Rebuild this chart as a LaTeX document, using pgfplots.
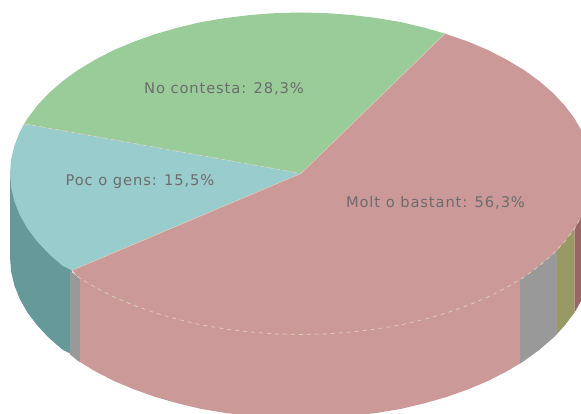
\documentclass[border=0pt]{standalone}
\usepackage{pgfplots}
\usepackage{fontspec}
\setmainfont[LetterSpace=6]{DejaVu Sans}
\pgfplotsset{compat=1.18}
\definecolor{pink}{HTML}{CC9999}
\definecolor{bluetop}{HTML}{99CCCC}
\definecolor{greentop}{HTML}{99CC99}
\definecolor{tealside}{HTML}{669999}
\definecolor{grayside}{HTML}{999999}
\definecolor{oliveside}{HTML}{999966}
\definecolor{redside}{HTML}{996666}
\definecolor{rim}{HTML}{DDD0BC}
\definecolor{labelc}{HTML}{6C6C6C}
\begin{document}
\begin{tikzpicture}
\useasboundingbox (0,0) rectangle (581bp,414bp);
\begin{axis}[
  scale only axis,
  width=581bp,
  height=414bp,
  xmin=0, xmax=581,
  ymin=0, ymax=414,
  y dir=reverse,
  hide axis,
  every axis plot/.append style={line join=round},
]
%% sides first, the top covers their upper edges
\addplot[fill=tealside, draw=none] coordinates {
  (72,271) (10,173.5) (10,257.5) (11.1,271.5) (14.4,285.5) (19.9,299.2) (27.5,312.6)
  (37.3,325.5) (49,338) (62.6,349.8) (72,354.4)
} --cycle;
\addplot[fill=grayside, draw=none] coordinates {
  (70,271) (80,278) (80,362) (78,361) (70,354.4)
} --cycle;
\addplot[fill=pink, draw=none] coordinates {
  (80,278) (520,279.5) (520,363.5) (506.8,371.3) (488,381) (467.9,389.4) (446.5,397)
  (424,403.4) (400.5,409) (376.3,413) (351.5,416) (326.4,417.9) (301,418.5) (275.6,417.9)
  (250.5,416) (225.7,413) (201.5,409) (178,403.4) (155.5,397) (134.1,389.4) (114,381)
  (95.2,371.3) (80,362)
} --cycle;
\addplot[fill=grayside, draw=none] coordinates {
  (520,279.5) (557,250) (557,334) (553,338) (539.4,349.8) (524,361) (520,363.5)
} --cycle;
\addplot[fill=oliveside, draw=none] coordinates {
  (557,250) (574.5,228.6) (574.5,312.6) (564.7,325.5) (557,334)
} --cycle;
\addplot[fill=redside, draw=none] coordinates {
  (574.5,228.6) (592,173.5) (592,257.5) (590.9,271.5) (587.6,285.5) (582.1,299.2) (574.5,312.6)
} --cycle;
%% top: green sector
\addplot[fill=greentop, draw=none] coordinates {
  (301,173.5) (24.2,123.7) (27.5,118.4) (37.3,105.5) (49,93) (62.6,81.2) (78,70) (95.2,59.7)
  (114,50) (134.1,41.6) (155.5,34) (178,27.6) (201.5,22) (225.7,18) (250.5,15) (275.6,13.1)
  (301,12.5) (326.4,13.1) (351.5,15) (376.3,18) (400.5,22) (424,27.6) (445,33.6)
} --cycle;
%% top: blue sector
\addplot[fill=bluetop, draw=none] coordinates {
  (301,173.5) (72,270.4) (62.6,265.8) (49,254) (37.3,241.5) (27.5,228.6) (19.9,215.2)
  (14.4,201.5) (11.1,187.5) (10,173.5) (11.1,159.5) (14.4,145.5) (19.9,131.8) (24.2,123.7)
} --cycle;
%% top: red sector
\addplot[fill=pink, draw=none] coordinates {
  (301,173.5) (445,33.6) (467.9,41.6) (488,50) (506.8,59.7) (524,70) (539.4,81.2) (553,93)
  (564.7,105.5) (574.5,118.4) (582.1,131.8) (587.6,145.5) (590.9,159.5) (592,173.5)
  (590.9,187.5) (587.6,201.5) (582.1,215.2) (574.5,228.6) (564.7,241.5) (553,254)
  (539.4,265.8) (524,277) (506.8,287.3) (488,297) (467.9,305.4) (446.5,313) (424,319.4)
  (400.5,325) (376.3,329) (351.5,332) (326.4,333.9) (301,334.5) (275.6,333.9) (250.5,332)
  (225.7,329) (201.5,325) (178,319.4) (155.5,313) (134.1,305.4) (114,297) (95.2,287.3)
  (78,277) (72,270.4)
} --cycle;
%% pale edges
\addplot[rim, line width=0.7bp, dash pattern=on 4bp off 4bp] coordinates {
  (72,270.4) (78,277) (95.2,287.3) (114,297) (134.1,305.4) (155.5,313) (178,319.4) (201.5,325)
  (225.7,329) (250.5,332) (275.6,333.9) (301,334.5) (326.4,333.9) (351.5,332) (376.3,329)
  (400.5,325) (424,319.4) (446.5,313) (467.9,305.4) (488,297) (506.8,287.3) (524,277)
  (539.4,265.8) (553,254) (564.7,241.5) (574.5,228.6) (582.1,215.2)
};
\addplot[rim, line width=0.7bp, dash pattern=on 4bp off 4bp] coordinates {(24.2,123.7) (301,173.5)};
\addplot[rim, line width=0.5bp] coordinates {(72,270.4) (301,173.5) (445,33.6)};
%% labels
\node[font=\fontsize{14.7bp}{16bp}\selectfont, text=labelc] at (axis cs:224,89) {No contesta: 28,3\%};
\node[font=\fontsize{14.7bp}{16bp}\selectfont, text=labelc] at (axis cs:140,182) {Poc o gens: 15,5\%};
\node[font=\fontsize{14.7bp}{16bp}\selectfont, text=labelc] at (axis cs:435.5,203) {Molt o bastant: 56,3\%};
\end{axis}
\end{tikzpicture}
\end{document}
